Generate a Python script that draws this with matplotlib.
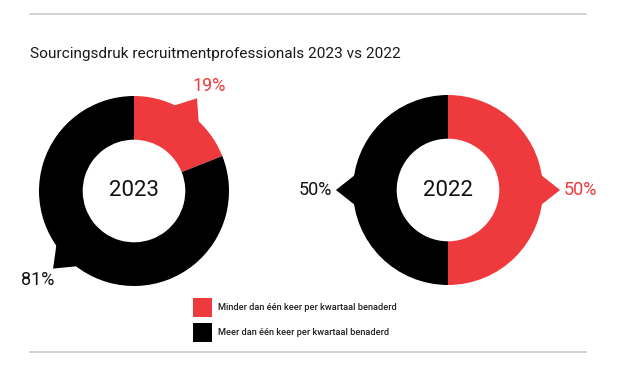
import matplotlib.pyplot as plt
from matplotlib.lines import Line2D
from matplotlib.patches import Rectangle
import numpy as np

plt.rcParams['font.family'] = ['Roboto', 'DejaVu Sans']

# data
years = ['2023', '2022']
minder = [19, 50]   # minder dan één keer per kwartaal benaderd
meer = [81, 50]     # meer dan één keer per kwartaal benaderd
series_labels = ['Minder dan één keer per kwartaal benaderd',
                 'Meer dan één keer per kwartaal benaderd']
title = 'Sourcingsdruk recruitmentprofessionals 2023 vs 2022'

RED = '#ef3a3d'
BLACK = '#000000'
colors = [RED, BLACK]

# layout (pixels)
W, H = 640, 368
centers = [(134, 191), (448, 190)]
R = 95
LIM = 1.45
pointer_shift = [[0, -12], [0, 0]]   # degrees, nudges label pointer

fig = plt.figure(figsize=(W / 100, H / 100), dpi=100)


def donut_axes(cx, cy):
    side = 2 * R * LIM
    return fig.add_axes([(cx - side / 2) / W, 1 - (cy + side / 2) / H, side / W, side / H])


for i, year in enumerate(years):
    vals = [minder[i], meer[i]]
    ax = donut_axes(*centers[i])
    ax.pie(vals, colors=colors, startangle=90, counterclock=False, radius=1,
           wedgeprops=dict(width=0.46, linewidth=0))
    ax.set_xlim(-LIM, LIM)
    ax.set_ylim(-LIM, LIM)
    ax.set_aspect('equal')
    ax.axis('off')

    cum = 0
    for j, v in enumerate(vals):
        mid = 90 - 360 * (cum + v / 2) / 100 + pointer_shift[i][j]
        cum += v
        a = np.radians(mid)
        a1, a2 = np.radians(mid - 12), np.radians(mid + 12)
        xs = [0.95 * np.cos(a1), 1.18 * np.cos(a), 0.95 * np.cos(a2)]
        ys = [0.95 * np.sin(a1), 1.18 * np.sin(a), 0.95 * np.sin(a2)]
        ax.fill(xs, ys, color=colors[j], lw=0, clip_on=False)

        c, s = np.cos(a), np.sin(a)
        ha = 'left' if c > 0.3 else ('right' if c < -0.3 else 'center')
        va = 'bottom' if s > 0.3 else ('top' if s < -0.3 else 'center')
        dx = -0.07 if (ha == 'left' and va != 'center') else (0.04 if ha == 'right' and va != 'center' else 0)
        ax.text(1.22 * c + dx, 1.22 * s, f'{v}%', ha=ha, va=va, fontsize=13,
                color=RED if j == 0 else '#111111', clip_on=False)

    ax.text(0, 0, year, ha='center', va='center', fontsize=16, color='#111111')

# title and rules
fig.text(30 / W, 1 - 58 / H, title, fontsize=11.1, color='#1a1a1a', va='baseline')
for y in (14, 352):
    fig.add_artist(Line2D([30 / W, 586 / W], [1 - y / H] * 2, color='#cccccc', lw=1.2))

# legend
for k, (c, lab) in enumerate(zip(colors, series_labels)):
    top = 298 + k * 25
    fig.add_artist(Rectangle((193 / W, 1 - (top + 19) / H), 19 / W, 19 / H,
                             facecolor=c, edgecolor='none'))
    fig.text(218 / W, 1 - (top + 9.5) / H, lab, fontsize=6.7, weight='medium',
             color='#222222', va='center')

fig.savefig('out.png', dpi=100)
